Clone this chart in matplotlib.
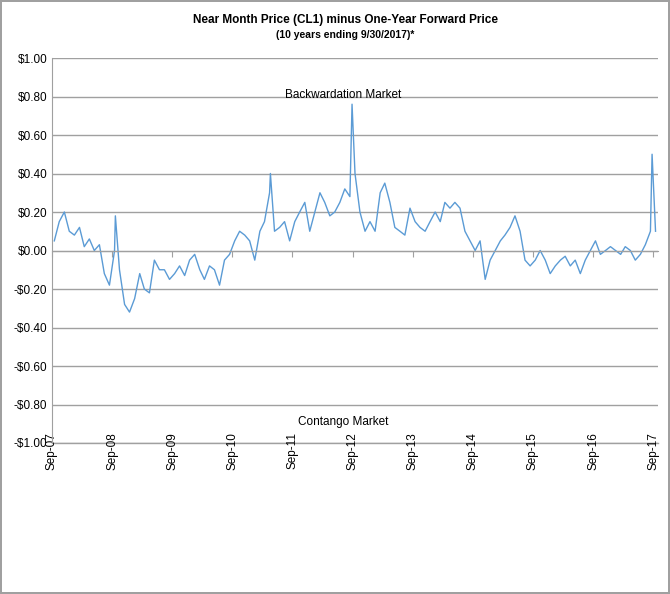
import numpy as np
import pandas as pd
import matplotlib
matplotlib.use('Agg')
import matplotlib.pyplot as plt
import matplotlib.dates as mdates
from matplotlib.ticker import FuncFormatter

plt.rcParams['font.family'] = ['Liberation Sans', 'DejaVu Sans']

# monthly readings, Sep 2007 .. Sep 2017
monthly = [
    0.05, 0.15, 0.20, 0.10,
    0.08, 0.12, 0.02, 0.06, 0.00, 0.03, -0.12, -0.18, 0.00, -0.10, -0.28, -0.32,
    -0.25, -0.12, -0.20, -0.22, -0.05, -0.10, -0.10, -0.15, -0.12, -0.08, -0.13, -0.05,
    -0.02, -0.10, -0.15, -0.08, -0.10, -0.18, -0.05, -0.02, 0.05, 0.10, 0.08, 0.05,
    -0.05, 0.10, 0.15, 0.30, 0.10, 0.12, 0.15, 0.05, 0.15, 0.20, 0.25, 0.10,
    0.20, 0.30, 0.25, 0.18, 0.20, 0.25, 0.32, 0.28, 0.40, 0.20, 0.10, 0.15,
    0.10, 0.30, 0.35, 0.25, 0.12, 0.10, 0.08, 0.22, 0.15, 0.12, 0.10, 0.15,
    0.20, 0.15, 0.25, 0.22, 0.25, 0.22, 0.10, 0.05, 0.00, 0.05, -0.15, -0.05,
    0.00, 0.05, 0.08, 0.12, 0.18, 0.10, -0.05, -0.08, -0.05, 0.00, -0.05, -0.12,
    -0.08, -0.05, -0.03, -0.08, -0.05, -0.12, -0.05, 0.00, 0.05, -0.02, 0.00, 0.02,
    0.00, -0.02, 0.02, 0.00, -0.05, -0.02, 0.03, 0.10, 0.10,
]
month_dates = pd.date_range('2007-09-01', periods=len(monthly), freq='MS') + pd.Timedelta(days=14)

# short-lived spikes
spike_dates = pd.to_datetime(['2008-09-20', '2011-04-20', '2012-08-28', '2017-08-25'])
spike_vals = [0.18, 0.40, 0.76, 0.50]

s = pd.concat([pd.Series(monthly, index=month_dates),
               pd.Series(spike_vals, index=spike_dates)]).sort_index()

fig = plt.figure(figsize=(6.7, 5.94), dpi=100)
fig.patch.set_edgecolor('#a0a0a0')
fig.patch.set_linewidth(1.5)
ax = fig.add_axes([52/670, 1-443/594, 606/670, 385/594])

ax.plot(s.index, s.values, color='#5b9bd5', lw=1)
ax.set_ylim(-1, 1)
ax.set_yticks(np.arange(-1, 1.01, 0.2))
ax.yaxis.set_major_formatter(FuncFormatter(lambda v, p: ('-$%.2f' % -v) if v < -1e-9 else '$%.2f' % abs(v)))
ax.grid(axis='y', color='#a0a0a0', lw=1)
ax.axhline(-1, color='#a0a0a0', lw=1, clip_on=False, zorder=0)
ax.set_axisbelow(True)
ax.set_xlim(pd.Timestamp('2007-09-01'), pd.Timestamp('2017-09-30'))
ticks = pd.date_range('2007-09-01', '2017-09-01', freq='12MS')
ax.set_xticks(ticks)
ax.xaxis.set_major_formatter(mdates.DateFormatter('%b-%y'))
ax.spines['bottom'].set_position(('data', 0))
ax.spines['bottom'].set_color('#a0a0a0')
ax.tick_params(axis='x', pad=127, length=4, color='#a0a0a0', labelsize=8.5,
               direction='out', labelrotation=90)
ax.tick_params(axis='y', length=0, labelsize=8.5)
for sp in ['top', 'right']:
    ax.spines[sp].set_visible(False)
ax.spines['left'].set_color('#a0a0a0')

fig.text(0.515, 0.977, 'Near Month Price (CL1) minus One-Year Forward Price', ha='center', va='top',
         fontsize=8.5, fontweight='bold')
fig.text(0.515, 0.950, '(10 years ending 9/30/2017)*', ha='center', va='top', fontsize=7.5, fontweight='bold')
ax.text(0.48, 0.905, 'Backwardation Market', transform=ax.transAxes, ha='center', va='center', fontsize=8.5)
ax.text(0.48, 0.055, 'Contango Market', transform=ax.transAxes, ha='center', va='center', fontsize=8.5)

fig.savefig('out.png', dpi=100, edgecolor=fig.get_edgecolor())
